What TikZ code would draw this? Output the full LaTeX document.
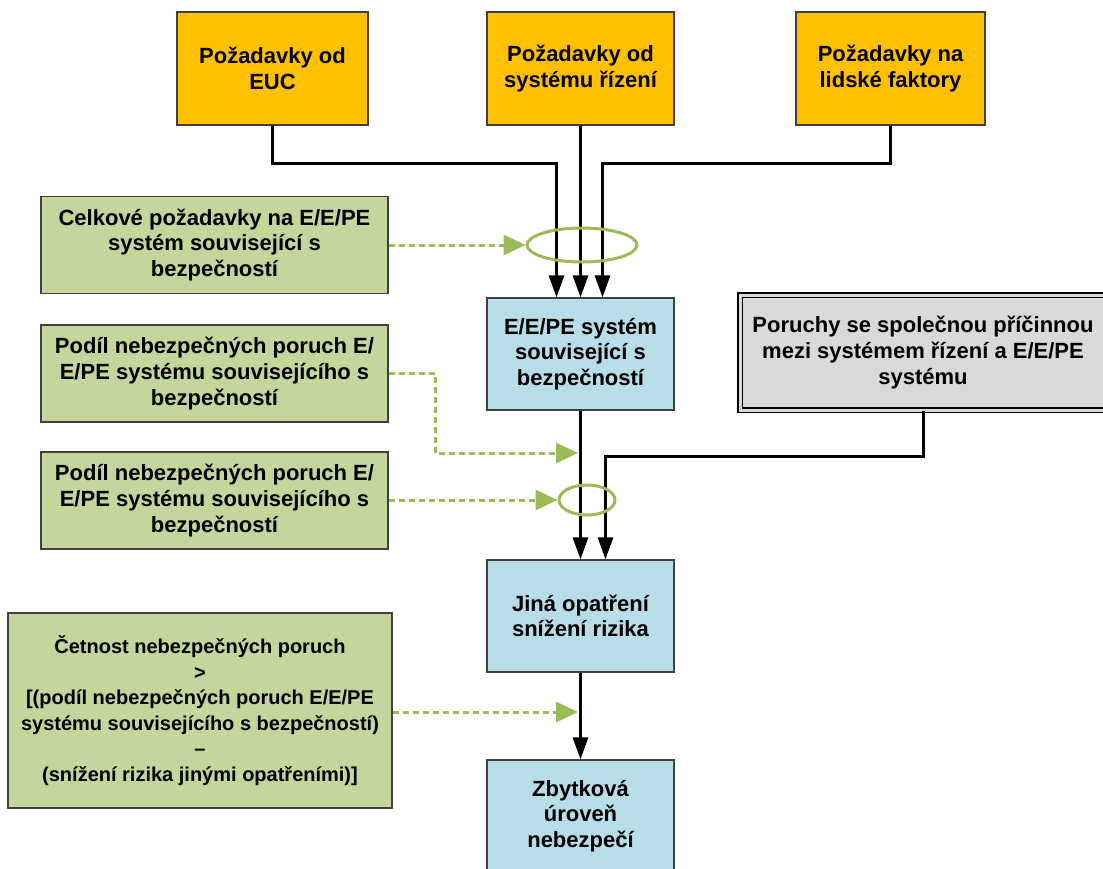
\documentclass[tikz,border=0pt]{standalone}
\usepackage{fontspec}
\setmainfont{Liberation Sans}
\usetikzlibrary{arrows.meta,shapes.geometric,calc}
\definecolor{reqorange}{HTML}{FFC000}
\definecolor{reqgreen}{HTML}{C3D69B}
\definecolor{sysblue}{HTML}{B7DDE8}
\definecolor{ccfgray}{HTML}{D9D9D9}
\definecolor{linkgreen}{HTML}{9BBB59}
\tikzset{
  box/.style={draw=black!75, line width=1.2pt, align=center, inner sep=4pt,
    font=\bfseries\fontsize{22}{25.6}\selectfont},
  reqbox/.style={box, fill=reqorange, minimum width=191pt, minimum height=113pt},
  sysbox/.style={box, fill=sysblue, minimum width=187pt, minimum height=112pt},
  notebox/.style={box, fill=reqgreen, minimum width=347pt, minimum height=97pt},
  flow/.style={line width=3pt, -{Triangle[length=22pt,width=15pt]}},
  hint/.style={draw=linkgreen, line width=3pt, dash pattern=on 6pt off 4pt,
    -{Triangle[length=22pt,width=20pt,fill=linkgreen]}},
  ring/.style={ellipse, draw=linkgreen, line width=3pt, inner sep=0pt}
}
\begin{document}
\begin{tikzpicture}[x=1pt,y=-1pt]
\useasboundingbox[fill=white] (0,0) rectangle (1103,868);

% top row of requirement sources
\node[reqbox] (o1) at (272.5,68.5) {Požadavky od\\EUC};
\node[reqbox, minimum width=187pt] (o2) at (580.5,68.5) {Požadavky od\\systému řízení};
\node[reqbox, minimum width=189pt] (o3) at (890.5,68.5) {Požadavky na\\lidské faktory};

% main chain
\node[sysbox] (b1) at (580.5,354) {E/E/PE systém\\související s\\bezpečností};
\node[sysbox] (b2) at (580.5,616) {Jiná opatření\\snížení rizika};
\node[sysbox] (b3) at (580.5,816) {Zbytková\\úroveň\\nebezpečí};

% common cause box
\node[box, fill=ccfgray, draw=black, line width=1.3pt, double=ccfgray, double distance=3pt,
  minimum width=366pt, minimum height=115pt] (cc) at (923,352.5)
  {Poruchy se společnou příčinnou\\mezi systémem řízení a E/E/PE\\systému};

% notes on the left
\node[notebox] (g1) at (214.5,245) {Celkové požadavky na E/E/PE\\systém související s\\bezpečností};
\node[notebox] (g2) at (214.5,373.5) {Podíl nebezpečných poruch E/\\E/PE systému souvisejícího s\\bezpečností};
\node[notebox] (g3) at (214.5,500.5) {Podíl nebezpečných poruch E/\\E/PE systému souvisejícího s\\bezpečností};
\node[notebox, font=\bfseries\fontsize{20}{25.5}\selectfont,
  minimum width=384pt, minimum height=195pt] (g4) at (200,710.5)
  {Četnost nebezpečných poruch\\>\\{[}(podíl nebezpečných poruch E/E/PE\\systému souvisejícího s bezpečností)\\–\\(snížení rizika jinými opatřeními)]};

% entry points on the system boxes
\coordinate (b1l) at ($(b1.north)+(-24,0)$);
\coordinate (b1r) at ($(b1.north)+(22,0)$);
\coordinate (b2r) at ($(b2.north)+(25,0)$);
\coordinate (tap1) at (578,453);
\coordinate (tap2) at (578,712);

% requirement flows into the E/E/PE system
\draw[flow] (o1.south) -- ++(0,38) -| (b1l);
\draw[flow] (o2.south) -- (b1.north);
\draw[flow] (o3.south) -- ++(0,38) -| (b1r);
\node[ring, minimum width=110pt, minimum height=34pt] (e1) at (582,245) {};

% flows down the chain
\draw[flow] (b1.south) -- (b2.north);
\draw[flow] (cc.south) -- ++(0,46) -| (b2r);
\draw[flow] (b2.south) -- (b3.north);
\node[ring, minimum width=56pt, minimum height=30pt] (e2) at (587,500) {};

% dashed annotations
\draw[hint] (g1.east) -- (g1.east -| e1.west);
\draw[hint] (g2.east) -- ++(47,0) |- (tap1);
\draw[hint] (g3.east |- e2.west) -- (e2.west);
\draw[hint] (g4.east |- tap2) -- (tap2);
\end{tikzpicture}
\end{document}
